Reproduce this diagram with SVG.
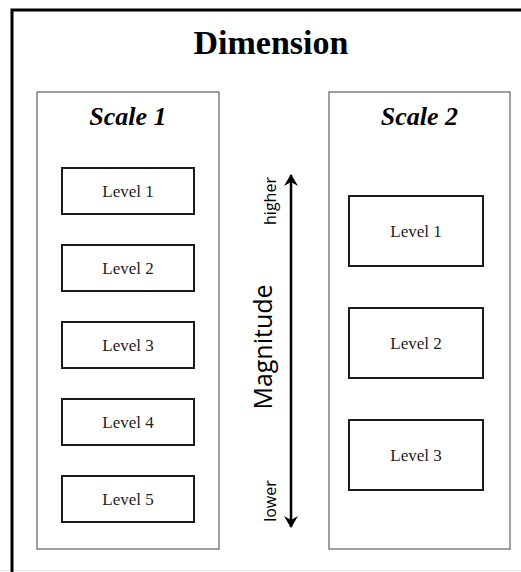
<svg xmlns="http://www.w3.org/2000/svg" width="521" height="572" viewBox="0 0 521 572">
<style>
.frame{fill:none;stroke:#000;stroke-width:3}
.scale{fill:#fff;stroke:#808080;stroke-width:1.5}
.lvl{fill:#fff;stroke:#1a1a1a;stroke-width:2}
.serif{font-family:'Liberation Serif','Times New Roman',Tinos,Times,serif}
.lt{font-size:17px;fill:#222;text-anchor:middle}
.st{font-size:26px;font-weight:bold;font-style:italic;fill:#000;text-anchor:middle}
.sans{font-family:'Open Sans','Noto Sans',sans-serif;fill:#000;text-anchor:middle}
</style>
<defs>
<marker id="ah" viewBox="0 0 12 14" refX="11" refY="7" markerWidth="12" markerHeight="14" markerUnits="userSpaceOnUse" orient="auto-start-reverse">
<path d="M0,0 L12,7 L0,14 L4,7 Z" fill="#000"/>
</marker>
</defs>
<rect x="0" y="0" width="521" height="572" fill="#fff"/>
<line x1="0" y1="570.5" x2="521" y2="570.5" stroke="#e6e6e6" stroke-width="1"/>
<g id="frame">
<path class="frame" d="M12,572 L12,10 L521,10"/>
<text class="serif" x="271" y="54" font-size="34" font-weight="bold" text-anchor="middle" fill="#000">Dimension</text>
</g>
<g id="scale1">
<rect class="scale" x="37" y="92" width="182" height="457"/>
<text class="serif st" x="128" y="125">Scale 1</text>
</g>
<g id="s1-level1"><rect class="lvl" x="62" y="168" width="132" height="46"/><text class="serif lt" x="128" y="197">Level 1</text></g>
<g id="s1-level2"><rect class="lvl" x="62" y="245" width="132" height="46"/><text class="serif lt" x="128" y="274">Level 2</text></g>
<g id="s1-level3"><rect class="lvl" x="62" y="322" width="132" height="46"/><text class="serif lt" x="128" y="351">Level 3</text></g>
<g id="s1-level4"><rect class="lvl" x="62" y="399" width="132" height="46"/><text class="serif lt" x="128" y="428">Level 4</text></g>
<g id="s1-level5"><rect class="lvl" x="62" y="476" width="132" height="46"/><text class="serif lt" x="128" y="505">Level 5</text></g>
<g id="scale2">
<rect class="scale" x="329" y="92" width="181" height="457"/>
<text class="serif st" x="419.5" y="125">Scale 2</text>
</g>
<g id="s2-level1"><rect class="lvl" x="349" y="196" width="134" height="70"/><text class="serif lt" x="416" y="237">Level 1</text></g>
<g id="s2-level2"><rect class="lvl" x="349" y="308" width="134" height="70"/><text class="serif lt" x="416" y="349">Level 2</text></g>
<g id="s2-level3"><rect class="lvl" x="349" y="420" width="134" height="70"/><text class="serif lt" x="416" y="461">Level 3</text></g>
<g id="connectors">
<line x1="291" y1="175" x2="291" y2="527" stroke="#000" stroke-width="2.5" marker-start="url(#ah)" marker-end="url(#ah)"/>
</g>
<g id="magnitude-labels">
<text class="sans" font-size="16" transform="translate(276,201) rotate(-90)">higher</text>
<text class="sans" font-size="16" transform="translate(276,501) rotate(-90)">lower</text>
<text class="sans" font-size="25" transform="translate(272,347) rotate(-90)">Magnitude</text>
</g>
</svg>
